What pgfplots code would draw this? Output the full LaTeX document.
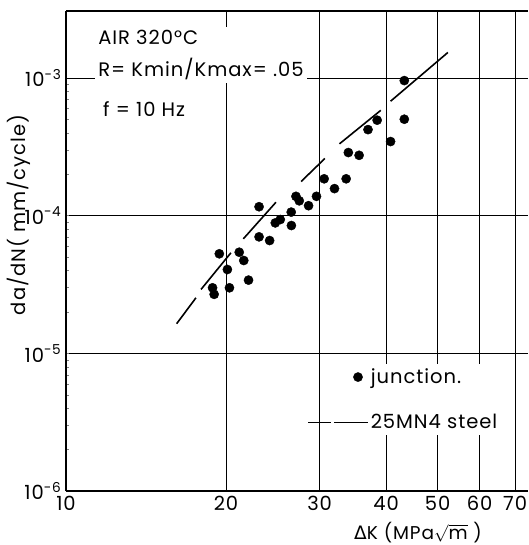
\documentclass[border=0pt]{standalone}
\usepackage{pgfplots}
\pgfplotsset{compat=1.18}
\usepackage{fontspec}
\setmainfont{Poppins}[LetterSpace=5]
\newfontfamily\dejavu{DejaVu Sans}

\begin{document}
\fontsize{19.5}{22}\selectfont
\begin{tikzpicture}
\useasboundingbox (-66pt,-54pt) rectangle (462pt,491pt);
\begin{axis}[
  at={(0,0)}, anchor=south west,
  width=462pt, height=480pt, scale only axis,
  xmode=log, ymode=log,
  xmin=10, xmax=74, ymin=1e-6, ymax=3.06e-3,
  axis x line*=box, axis y line*=left,
  axis line style={line width=1.4pt},
  xtick={10,20,30,40,50,60,70},
  xticklabels={10,20,30,40,50,60,70},
  ytick={1e-6,1e-5,1e-4,1e-3},
  yticklabels={10\textsuperscript{-6},10\textsuperscript{-5},10\textsuperscript{-4},10\textsuperscript{-3}},
  minor xtick={}, minor ytick={},
  major tick length=0pt,
  grid=major,
  major grid style={line width=0.7pt, black},
  xticklabel style={yshift=-4pt, inner sep=1pt, font=\fontsize{19.5}{22}\selectfont},
  yticklabel style={xshift=2pt, font=\fontsize{19.5}{22}\selectfont},
  xlabel={{\dejavu Δ}K (MPa$\smash{\sqrt{\mbox{m}}}$ )},
  ylabel={da/dN( mm/cycle)},
  xlabel style={at={(axis description cs:0.762,-0.0865)}, anchor=center, inner sep=0pt,
    font=\fontsize{18.5}{20}\selectfont},
  ylabel style={at={(axis description cs:-0.103,0.575)}, anchor=center},
  legend cell align=left,
  legend style={at={(axis description cs:0.5736,0.2646)}, anchor=north west,
    draw=none, fill=white, inner sep=2pt, row sep=24pt, column sep=0pt},
]
% junction data
\addplot[only marks, mark=*, mark size=4.6pt, black,
  legend image code/.code={\fill[black] (-10pt,0pt) circle (4.6pt);}] coordinates {
 (19.43,5.28e-5) (21.18,5.42e-5) (21.6,4.72e-5) (20.12,4.06e-5) (22.05,3.40e-5)
 (18.87,2.99e-5) (19.0,2.68e-5) (20.3,2.99e-5) (23.08,1.16e-4) (23.08,7.01e-5)
 (24.16,6.59e-5) (24.76,8.85e-5) (25.3,9.36e-5) (26.53,1.06e-4) (26.55,8.47e-5)
 (27.08,1.38e-4) (27.47,1.28e-4) (28.6,1.18e-4) (29.6,1.38e-4) (30.6,1.85e-4)
 (32.0,1.57e-4) (33.66,1.85e-4) (33.98,2.87e-4) (35.6,2.74e-4) (37.0,4.21e-4)
 (38.5,4.93e-4) (40.8,3.45e-4) (43.3,5.01e-4) (43.3,9.56e-4)};
\addlegendentry{junction.}
% 25MN4 steel, drawn as separate dashes
\addplot[line width=1.6pt, black, forget plot] coordinates {(16.15,1.64e-5) (17.56,2.53e-5)};
\addplot[line width=1.6pt, black, forget plot] coordinates {(17.95,2.91e-5) (20.43,5.37e-5)};
\addplot[line width=1.6pt, black, forget plot] coordinates {(21.56,6.78e-5) (24.83,1.25e-4)};
\addplot[line width=1.6pt, black, forget plot] coordinates {(27.7,1.77e-4) (30.7,2.60e-4)};
\addplot[line width=1.6pt, black, forget plot] coordinates {(32.7,3.32e-4) (39.1,5.81e-4)};
\addplot[line width=1.6pt, black, forget plot] coordinates {(40.8,6.77e-4) (52.3,1.53e-3)};
\addlegendimage{legend image code/.code={
  \draw[line width=1.6pt, overlay] (-60pt,0pt) -- (-37pt,0pt);
  \draw[line width=1.6pt] (-34pt,0pt) -- (0pt,0pt);}}
\addlegendentry{25MN4 steel}

\node[anchor=west, fill=white, align=left, inner sep=3pt, font=\fontsize{19.5}{32}\selectfont]
  at (axis description cs:0.063,0.908) {AIR 320°C\\R= Kmin/Kmax= .05};
\node[anchor=west, inner sep=0pt] at (axis description cs:0.08,0.796) {f = 10 Hz};
\end{axis}
\end{tikzpicture}
\end{document}
